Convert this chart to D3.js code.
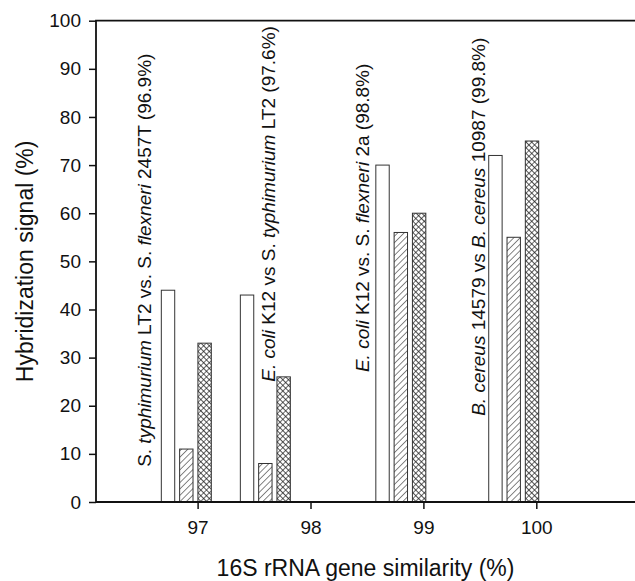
<!DOCTYPE html>
<html>
<head>
<meta charset="utf-8">
<script src="https://cdnjs.cloudflare.com/ajax/libs/d3/7.8.5/d3.min.js"></script>
<style>
	body { margin: 0; background: #fff; }
	svg { display: block; font-family: 'Liberation Sans', Arial, sans-serif; }
</style>
</head>
<body>
<div class="vis"></div>
<script>
'use strict';

// 16S rRNA similarity of each strain pair (x position of the group)
var similarity = [96.9, 97.6, 98.8, 99.8];

// hybridization signal (%) per series, one value per strain pair
var openBars = [44, 43, 70, 72];
var hatchedBars = [11, 8, 56, 55];
var crossBars = [33, 26, 60, 75];

var xTicks = [97, 98, 99, 100];
var yTicks = d3.range(0, 101, 10);

// strain pair captions, [text, italic]
var pairLabels = [
	[['S.', 0], [' typhimurium', 1], [' LT2 vs. ', 0], ['S.', 0], [' flexneri', 1], [' 2457T (96.9%)', 0]],
	[['E.', 1], [' coli', 1], [' K12 vs ', 0], ['S.', 0], [' typhimurium', 1], [' LT2 (97.6%)', 0]],
	[['E.', 1], [' coli', 1], [' K12 vs. ', 0], ['S.', 0], [' flexneri', 1], [' 2a (98.8%)', 0]],
	[['B.', 1], [' cereus', 1], [' 14579 vs ', 0], ['B.', 1], [' cereus', 1], [' 10987 (99.8%)', 0]]
];

// where each caption starts (data units: similarity, signal)
var labelAnchors = [[96.587, 7.3], [97.685, 25.0], [98.518, 27.0], [99.545, 17.9]];

(function () {

	var width = 635;
	var height = 581;

	var x = d3.scaleLinear().domain([96.1, 101]).range([96, 649.2]);
	var y = d3.scaleLinear().domain([0, 100]).range([502, 20.7]);

	var barWidth = 13.4;
	var barPitch = 18.3;

	var svg = d3.select('.vis')
		.append('svg')
			.attr('width', width)
			.attr('height', height);

	// fill patterns
	var defs = svg.append('defs');

	var hatch = defs.append('pattern')
		.attr('id', 'hatch')
		.attr('patternUnits', 'userSpaceOnUse')
		.attr('width', 4.5)
		.attr('height', 4.5)
		.attr('patternTransform', 'rotate(45)');
	hatch.append('rect').attr('width', 4.5).attr('height', 4.5).attr('fill', '#fff');
	hatch.append('line')
		.attr('x1', 0).attr('y1', 0).attr('x2', 0).attr('y2', 4.5)
		.attr('stroke', '#222').attr('stroke-width', 1.1);

	var cross = defs.append('pattern')
		.attr('id', 'cross')
		.attr('patternUnits', 'userSpaceOnUse')
		.attr('width', 4)
		.attr('height', 4)
		.attr('patternTransform', 'rotate(45)');
	cross.append('rect').attr('width', 4).attr('height', 4).attr('fill', '#fff');
	cross.append('path')
		.attr('d', 'M0,0V4M0,0H4')
		.attr('stroke', '#1a1a1a').attr('stroke-width', 1.3);

	// bars
	var series = [
		{ values: openBars, fill: '#fff', offset: -1 },
		{ values: hatchedBars, fill: 'url(#hatch)', offset: 0 },
		{ values: crossBars, fill: 'url(#cross)', offset: 1 }
	];

	series.forEach(function (s) {
		svg.append('g')
			.selectAll('rect')
			.data(s.values)
			.enter()
			.append('rect')
				.attr('x', function (d, i) { return x(similarity[i]) + s.offset * barPitch - barWidth / 2; })
				.attr('y', function (d) { return y(d); })
				.attr('width', barWidth)
				.attr('height', function (d) { return y(0) - y(d); })
				.attr('fill', s.fill)
				.attr('stroke', '#333')
				.attr('stroke-width', 1);
	});

	// strain pair captions
	var captions = svg.append('g')
		.selectAll('text')
		.data(pairLabels)
		.enter()
		.append('text')
			.attr('transform', function (d, i) {
				return 'translate(' + x(labelAnchors[i][0]) + ',' + y(labelAnchors[i][1]) + ') rotate(-90)';
			})
			.attr('font-size', 19)
			.attr('fill', '#111');

	captions.selectAll('tspan')
		.data(function (d) { return d; })
		.enter()
		.append('tspan')
			.attr('font-style', function (d) { return d[1] ? 'italic' : 'normal'; })
			.style('white-space', 'pre')
			.text(function (d) { return d[0]; });

	// axes
	var xAxis = svg.append('g')
		.attr('transform', 'translate(0,' + y(0) + ')')
		.call(d3.axisBottom(x).tickValues(xTicks).tickSize(7).tickPadding(12).tickFormat(d3.format('d')));

	var yAxis = svg.append('g')
		.attr('transform', 'translate(' + x(96.1) + ',0)')
		.call(d3.axisLeft(y).tickValues(yTicks).tickSize(7).tickPadding(8));

	[xAxis, yAxis].forEach(function (g) {
		g.select('.domain').remove();
		g.selectAll('line').attr('stroke', '#111').attr('stroke-width', 1.5);
		g.selectAll('text').attr('font-size', 19).attr('font-family', null).attr('fill', '#111');
	});

	// axis lines and top border
	svg.append('path')
		.attr('d', 'M' + x(101) + ',' + y(0) + 'H' + x(96.1) + 'V' + y(100) + 'H' + x(101))
		.attr('fill', 'none')
		.attr('stroke', '#111')
		.attr('stroke-width', 1.8);

	// axis titles
	svg.append('text')
		.attr('x', (x(96.1) + width) / 2)
		.attr('y', 576)
		.attr('text-anchor', 'middle')
		.attr('font-size', 23)
		.attr('fill', '#111')
		.text('16S rRNA gene similarity (%)');

	svg.append('text')
		.attr('transform', 'translate(33,' + (y(0) + y(100)) / 2 + ') rotate(-90)')
		.attr('text-anchor', 'middle')
		.attr('font-size', 23)
		.attr('fill', '#111')
		.text('Hybridization signal (%)');

})();
</script>
</body>
</html>
